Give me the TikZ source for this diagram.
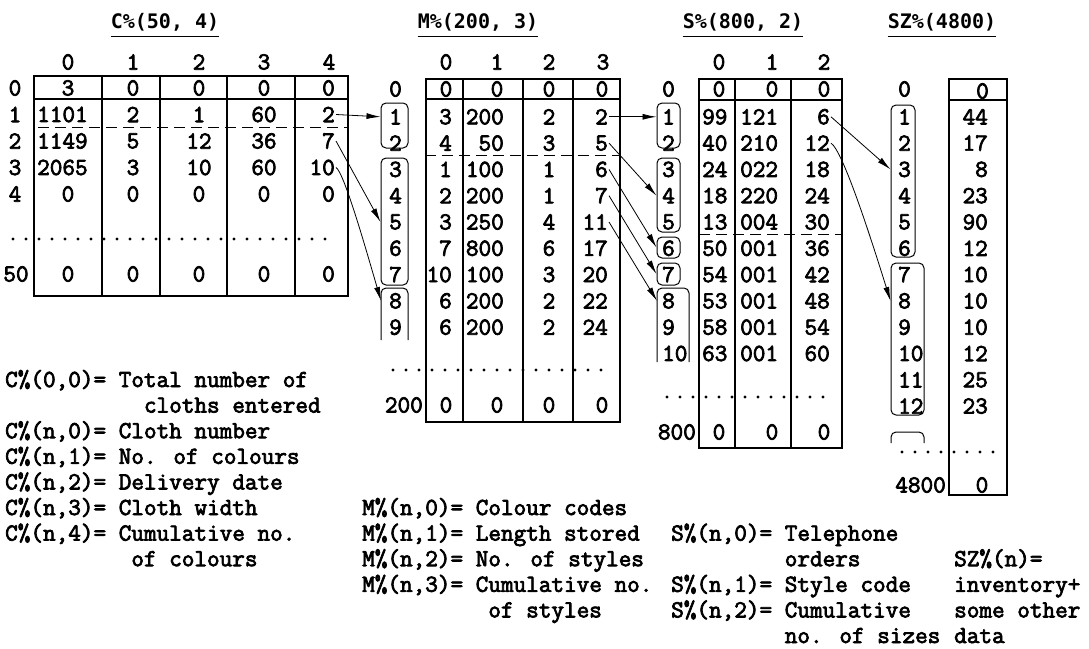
\documentclass[tikz,border=0pt]{standalone}
\usepackage{fontspec}
\newfontfamily\typefont{Latin Modern Mono}[FakeBold=3]
\newfontfamily\titlefont{DejaVu Sans Mono}
\usetikzlibrary{arrows.meta}

\begin{document}
\begin{tikzpicture}[x=1pt,y=1pt,
    every node/.style={font=\typefont\fontsize{24.5}{25.6}\selectfont,inner sep=1pt},
    Title/.style={font=\titlefont\bfseries\fontsize{20}{24}\selectfont,inner xsep=0pt,inner ysep=5pt},
    Grid/.style={line width=1.1pt},
    Split/.style={line width=0.9pt,dash pattern=on 11pt off 6pt},
    Dots/.style={line width=3.4pt,line cap=round,dash pattern=on 0pt off 13pt},
    Bracket/.style={draw,line width=1pt,rounded corners=5pt,inner sep=0pt},
    Pointer/.style={line width=0.8pt,-{Latex[length=14pt,width=6pt]}},
    Legend/.style={anchor=base west,inner sep=0pt}]
    \useasboundingbox (0,0) rectangle (1089,-648);

    % titles
    \node[Title] (ct) at (165,-22) {C\%(50, 4)};
    \node[Title] (mt) at (478,-22) {M\%(200, 3)};
    \node[Title] (st) at (743,-22) {S\%(800, 2)};
    \node[Title] (zt) at (942,-22) {SZ\%(4800)};
    \foreach \t in {ct,mt,st,zt}
        \draw[line width=1.2pt] (\t.south west) -- (\t.south east);

    % C%(50,4)
    \draw[Grid] (34,-76) rectangle (348,-296);
    \draw[Grid] (34,-99) -- (348,-99);
    \foreach \x in {102,160,227,295}
        \draw[Grid] (\x,-76) -- (\x,-296);
    \draw[Split] (38,-127) -- (348,-127);
    \draw[Dots] (13,-239) -- (335,-239);
    \foreach \x [count=\i from 0] in {68,133,199,264,329}
        \node (ch\i) at (\x,-62) {\i};
    \foreach \r in {0,...,4}
        \node (cr\r) at (15,{-88-26.5*\r}) {\r};
    \node (cr50) at (16,-274) {50};
    \foreach \a/\b/\c/\d/\e [count=\r] in {1101/2/1/60/2,1149/5/12/36/7,2065/3/10/60/10} {
        \node[anchor=west] (c0-\r) at (36,{-88-26.5*\r}) {\a};
        \node (c1-\r) at (133,{-88-26.5*\r}) {\b};
        \node (c2-\r) at (199,{-88-26.5*\r}) {\c};
        \node (c3-\r) at (264,{-88-26.5*\r}) {\d};
        \node[anchor=east] (c4-\r) at (336,{-88-26.5*\r}) {\e};
    }
    \foreach \y/\r/\v in {88/0/3,194/4/0,274/50/0} {
        \node (c0-\r) at (68,-\y) {\v};
        \node (c1-\r) at (133,-\y) {0};
        \node (c2-\r) at (199,-\y) {0};
        \node (c3-\r) at (264,-\y) {0};
        \node[anchor=east] (c4-\r) at (336,-\y) {0};
    }

    % M%(200,3)
    \draw[Grid] (426,-79) rectangle (620,-422);
    \draw[Grid] (426,-99) -- (620,-99);
    \foreach \x in {463,523,573}
        \draw[Grid] (\x,-79) -- (\x,-422);
    \draw[Split] (425,-155) -- (620,-155);
    \draw[Dots] (393,-370) -- (605,-370);
    \foreach \x [count=\i from 0] in {446,497,549,603}
        \node (mh\i) at (\x,-62) {\i};
    \node[anchor=west] (mi0) at (388,-89) {0};
    \node[anchor=east] (mi200) at (424,-405) {200};
    \foreach \a/\b/\c/\d [count=\r] in {3/200/2/2,4/50/3/5,1/100/1/6,2/200/1/7,3/250/4/11,7/800/6/17,10/100/3/20,6/200/2/22,6/200/2/24} {
        \node[anchor=west] (mi\r) at (388,{-90.5-26.3*\r}) {\r};
        \node[anchor=east] (m0-\r) at (453,{-90.5-26.3*\r}) {\a};
        \node[anchor=east] (m1-\r) at (505,{-90.5-26.3*\r}) {\b};
        \node (m2-\r) at (549,{-90.5-26.3*\r}) {\c};
        \node[anchor=east] (m3-\r) at (609,{-90.5-26.3*\r}) {\d};
    }
    \foreach \y/\r in {89/0,405/200} {
        \node (m0-\r) at (446,-\y) {0};
        \node (m1-\r) at (497,-\y) {0};
        \node (m2-\r) at (549,-\y) {0};
        \node (m3-\r) at (602,-\y) {0};
    }
    \node[Bracket,minimum width=27,minimum height=45] (mb1) at (394.5,-125.5) {};
    \node[Bracket,minimum width=27,minimum height=127] (mb2) at (394.5,-221.5) {};
    \coordinate (mo) at (381,-288);
    \draw[line width=1pt,rounded corners=5pt] (381,-340) -- (mo) -- (408,-288) -- (408,-340);

    % S%(800,2)
    \draw[Grid] (699,-79) rectangle (842,-448);
    \draw[Grid] (699,-100) -- (842,-100);
    \foreach \x in {735,791}
        \draw[Grid] (\x,-79) -- (\x,-448);
    \draw[Split] (699,-234) -- (842,-234);
    \draw[Dots] (667,-397) -- (829,-397);
    \foreach \x [count=\i from 0] in {719,772,824}
        \node (sh\i) at (\x,-62) {\i};
    \node[anchor=west] (si0) at (661,-89) {0};
    \node[anchor=east] (si800) at (697,-432) {800};
    \foreach \a/\b/\c [count=\r] in {99/121/6,40/210/12,24/022/18,18/220/24,13/004/30,50/001/36,54/001/42,53/001/48,58/001/54,63/001/60} {
        \node[anchor=west] (si\r) at (661,{-90.5-26.3*\r}) {\r};
        \node[anchor=west] (s0-\r) at (701,{-90.5-26.3*\r}) {\a};
        \node[anchor=west] (s1-\r) at (739,{-90.5-26.3*\r}) {\b};
        \node[anchor=east] (s2-\r) at (831,{-90.5-26.3*\r}) {\c};
    }
    \foreach \y/\r in {89/0,432/800} {
        \node (s0-\r) at (719,-\y) {0};
        \node (s1-\r) at (772,-\y) {0};
        \node (s2-\r) at (824,-\y) {0};
    }
    \node[Bracket,minimum width=23,minimum height=45] (sb1) at (668.5,-125.5) {};
    \node[Bracket,minimum width=23,minimum height=74] (sb2) at (668.5,-195) {};
    \node[Bracket,minimum width=23,minimum height=21] (sb3) at (668.5,-247.5) {};
    \node[Bracket,minimum width=23,minimum height=22] (sb4) at (668.5,-274) {};
    \coordinate (so) at (657,-288);
    \draw[line width=1pt,rounded corners=5pt] (657,-362) -- (so) -- (689,-288) -- (689,-362);

    % SZ%(4800)
    \draw[Grid] (949,-79) rectangle (1007,-495);
    \draw[Grid] (949,-100) -- (1007,-100);
    \draw[Dots] (902,-452) -- (997,-452);
    \node[anchor=west] (zi0) at (897,-89) {0};
    \node[anchor=east] (z0) at (990,-91) {0};
    \foreach \v [count=\r] in {44,17,8,23,90,12,10,10,10,12,25,23} {
        \node[anchor=west] (zi\r) at (897,{-90.5-26.3*\r}) {\r};
        \node[anchor=east] (z\r) at (989,{-90.5-26.3*\r}) {\v};
    }
    \node[anchor=east] (zi4800) at (947,-485) {4800};
    \node (z4800) at (982,-485) {0};
    \node[Bracket,minimum width=24,minimum height=152] (zb1) at (903,-181) {};
    \node[Bracket,minimum width=33,minimum height=152] (zb2) at (907.5,-339) {};
    \draw[line width=1pt,rounded corners=5pt] (891,-443) -- (891,-432) -- (924,-432) -- (924,-443);

    % pointers
    \draw[Pointer] (c4-1.east) -- (mb1.west |- mi1);
    \draw[Pointer] (c4-2.east) -- (mb2.west |- mi5);
    \draw[Pointer] (c4-3.east) .. controls +(8,-5) and +(-16,55) .. (mo |- mi8);
    \draw[Pointer] (m3-1.east) -- (sb1.west |- si1);
    \draw[Pointer] (m3-2.east) -- (sb2.west |- si4);
    \draw[Pointer] (m3-3.east) -- (sb3.west);
    \draw[Pointer] (m3-4.east) -- (sb4.west);
    \draw[Pointer] (m3-5.east) -- (so |- si8);
    \draw[Pointer] (s2-1.east) -- (zb1.west |- zi3);
    \draw[Pointer] (s2-2.east) .. controls +(12,-8) and +(-20,64) .. (zb2.west |- zi8);

    % legends
    \foreach \t [count=\k from 0] in {{C\%(0,0)= Total number of},{~~~~~~~~~~~cloths entered},{C\%(n,0)= Cloth number},{C\%(n,1)= No. of colours},{C\%(n,2)= Delivery date},{C\%(n,3)= Cloth width},{C\%(n,4)= Cumulative no.},{~~~~~~~~~~of colours}}
        \node[Legend] (cl\k) at (5,{-387-25.6*\k}) {\t};
    \foreach \t [count=\k from 5] in {{M\%(n,0)= Colour codes},{M\%(n,1)= Length stored},{M\%(n,2)= No. of styles},{M\%(n,3)= Cumulative no.},{~~~~~~~~~~of styles}}
        \node[Legend] (ml\k) at (362,{-387-25.6*\k}) {\t};
    \foreach \t [count=\k from 6] in {{S\%(n,0)= Telephone},{~~~~~~~~~orders},{S\%(n,1)= Style code},{S\%(n,2)= Cumulative},{~~~~~~~~~no. of sizes}}
        \node[Legend] (sl\k) at (671,{-387-25.6*\k}) {\t};
    \foreach \t [count=\k from 7] in {{SZ\%(n)=},{inventory+},{some other},{data}}
        \node[Legend] (zl\k) at (954,{-387-25.6*\k}) {\t};
\end{tikzpicture}
\end{document}
